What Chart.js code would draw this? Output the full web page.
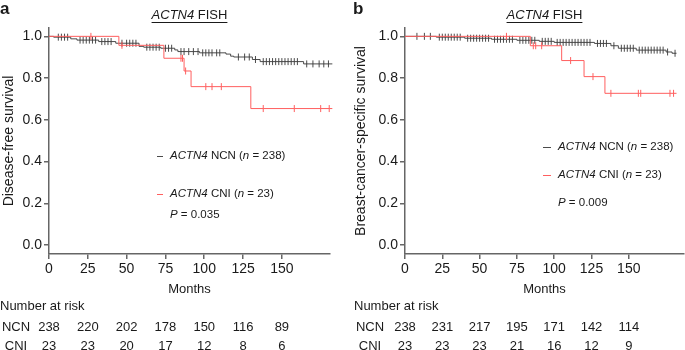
<!DOCTYPE html>
<html><head><meta charset="utf-8">
<script src="https://cdn.jsdelivr.net/npm/chart.js@4"></script>
<style>
html,body{margin:0;padding:0;background:#fff;}
#wrap{position:relative;width:685px;height:350px;overflow:hidden;background:#fff;}
#ca{position:absolute;left:0;top:0;width:343px;height:350px;}
#cb{position:absolute;left:343px;top:0;width:342px;height:350px;}
</style></head><body>
<div id="wrap"><canvas id="ca" width="343" height="350"></canvas><canvas id="cb" width="342" height="350"></canvas></div>
<script>
const xTicks = [0, 25, 50, 75, 100, 125, 150];
const yTicks = [0, 0.2, 0.4, 0.6, 0.8, 1.0];

// [months, survival, censored (1) or event (0)]
const dfsNCN = [
 [0,1,0],[3,0.996,0],[6,0.996,1],[8,0.996,1],[10,0.996,1],[12,0.996,1],
 [14,0.988,0],[18,0.982,0],[20,0.982,1],[22,0.982,1],[24,0.982,1],[26,0.982,1],[28,0.982,1],[30,0.982,1],
 [32,0.975,0],[34,0.975,1],[36,0.975,1],[38,0.975,1],[40,0.975,1],
 [43,0.967,0],[47,0.967,1],[50,0.967,1],[52,0.967,1],[54,0.967,1],[56,0.967,1],
 [58,0.952,0],[61,0.948,0],[63,0.948,1],[65,0.948,1],[67,0.948,1],[69,0.948,1],[71,0.948,1],
 [72,0.943,0],[75,0.943,1],[77,0.943,1],[79,0.943,1],
 [81,0.935,0],[83,0.927,0],[85,0.927,1],[87,0.927,1],[90,0.927,1],[93,0.927,1],[96,0.927,1],
 [97,0.921,0],[99,0.921,1],[101,0.921,1],[103,0.921,1],[105,0.921,1],[108,0.921,1],[110,0.921,1],
 [114,0.915,0],[117,0.905,0],[119,0.901,0],[122,0.901,1],[126,0.901,1],[129,0.901,1],
 [131,0.889,0],[133,0.889,1],[136,0.879,0],
 [138,0.879,1],[140,0.879,1],[142,0.879,1],[144,0.879,1],[146,0.879,1],[148,0.879,1],[150,0.879,1],
 [152,0.879,1],[154,0.879,1],[156,0.879,1],[158,0.879,1],[160,0.879,1],
 [164,0.868,0],[166,0.868,1],[170,0.868,1],[174,0.868,1],[177,0.868,1],[180,0.868,1],[182.5,0.868,0]
];
const dfsCNI = [
 [0,1,0],[27,1,1],[45,0.957,0],[47,0.957,1],[74,0.895,0],[85,0.895,1],[86,0.895,1],
 [87,0.834,0],[88,0.834,1],[91.5,0.759,0],[101,0.759,1],[105,0.759,1],[111,0.759,1],
 [130,0.654,0],[138,0.654,1],[158,0.654,1],[175,0.654,1],[180.5,0.654,1],[182.5,0.654,0]
];
const bcssNCN = [
 [0,1,0],[8,1,1],[13,1,1],[17,1,1],
 [21,0.996,0],[23,0.996,1],[25,0.996,1],[27,0.996,1],[29,0.996,1],[31,0.996,1],[33,0.996,1],[35,0.996,1],[37,0.996,1],
 [40,0.991,0],[42,0.991,1],[44,0.991,1],[46,0.991,1],[48,0.991,1],[50,0.991,1],[52,0.991,1],[54,0.991,1],[56,0.991,1],
 [58,0.986,0],[60,0.986,1],[62,0.986,1],[64,0.986,1],[66,0.986,1],[68,0.986,1],[70,0.986,1],[72,0.986,1],
 [75,0.981,0],[77,0.981,1],[79,0.981,1],[81,0.981,1],[83,0.981,1],[85,0.981,1],[87,0.981,1],
 [90,0.976,0],[92,0.976,1],[94,0.976,1],[96,0.976,1],[98,0.976,1],
 [100,0.971,0],[102,0.971,1],[104,0.971,1],[106,0.971,1],[108,0.971,1],[110,0.971,1],[112,0.971,1],
 [114,0.971,1],[116,0.971,1],[118,0.971,1],[120,0.971,1],[122,0.971,1],[124,0.971,1],
 [127,0.966,0],[129,0.966,1],[131,0.966,1],[133,0.966,1],[135,0.966,1],
 [138,0.955,0],[140,0.955,1],[143,0.943,0],[145,0.943,1],[147,0.943,1],[149,0.943,1],[151,0.943,1],[153,0.943,1],
 [155,0.934,0],[157,0.934,1],[159,0.934,1],[161,0.934,1],[163,0.934,1],[165,0.934,1],[167,0.934,1],[169,0.934,1],[171,0.934,1],[173,0.934,1],
 [175,0.925,0],[176,0.925,1],[179,0.919,0],[181,0.919,1],[182,0.919,0]
];
const bcssCNI = [
 [0,1,0],[68,1,1],[84,0.955,0],[86,0.955,1],[87.6,0.955,1],[91.6,0.955,1],
 [105,0.884,0],[111,0.884,1],[120,0.807,0],[126,0.807,1],
 [134,0.727,0],[138,0.727,1],[156.4,0.727,1],[158,0.727,1],[177.6,0.727,1],[180,0.727,1],[182,0.727,0]
];

const riskA_NCN = [238, 220, 202, 178, 150, 116, 89];
const riskA_CNI = [23, 23, 20, 17, 12, 8, 6];
const riskB_NCN = [238, 231, 217, 195, 171, 142, 114];
const riskB_CNI = [23, 23, 23, 21, 16, 12, 9];

const FF = "'Liberation Sans', Arial, Helvetica, sans-serif";
const GRAY = 'rgba(55,55,55,0.9)';
const RED = 'rgb(255,95,95)';
const TXT = '#1a1a1a';
Chart.defaults.font.family = FF;
Chart.defaults.color = TXT;

function drawRuns(ctx, x, y, parts, size, align) {
  const w = parts.map(p => { ctx.font = (p[1] ? 'italic ' : '') + size + 'px ' + FF; return ctx.measureText(p[0]).width; });
  const total = w.reduce((a, b) => a + b, 0);
  let cx = align === 'center' ? x - total / 2 : x;
  const start = cx;
  parts.forEach((p, i) => { ctx.font = (p[1] ? 'italic ' : '') + size + 'px ' + FF; ctx.fillText(p[0], cx, y); cx += w[i]; });
  return [start, total];
}

function makeDataset(arr, color) {
  return {
    data: arr.map(p => ({x: p[0], y: p[1]})),
    stepped: true,
    borderColor: color,
    borderWidth: 1,
    fill: false,
    clip: false,
    pointStyle: 'line',
    pointRotation: 90,
    pointRadius: arr.map(p => p[2] ? 3.5 : 0),
    pointHoverRadius: arr.map(p => p[2] ? 3.5 : 0),
    pointBorderColor: color,
    pointBackgroundColor: color,
    pointBorderWidth: 1
  };
}

function makePanel(id, cfg) {
  const textPlugin = {
    id: 'texts' + id,
    afterDraw(chart) {
      const ctx = chart.ctx;
      const xs = chart.scales.x;
      const area = chart.chartArea;
      const cxm = (area.left + area.right) / 2;
      ctx.save();
      ctx.fillStyle = TXT;
      ctx.textBaseline = 'alphabetic';
      ctx.textAlign = 'left';
      ctx.font = 'bold 17px ' + FF;
      ctx.fillText(cfg.letter, cfg.letterX, 14);
      // title
      ctx.textBaseline = 'middle';
      const [ts, tw] = drawRuns(ctx, cxm, 15.5, [['ACTN4', true], [' FISH', false]], 13, 'center');
      ctx.strokeStyle = TXT; ctx.lineWidth = 1;
      ctx.beginPath(); ctx.moveTo(ts, 22.5); ctx.lineTo(ts + tw, 22.5); ctx.stroke();
      // legend
      const L = cfg.legend;
      ctx.lineWidth = 1;
      ctx.strokeStyle = GRAY;
      ctx.beginPath(); ctx.moveTo(L.lx0, L.y1 + 0.5); ctx.lineTo(L.lx1, L.y1 + 0.5); ctx.stroke();
      ctx.strokeStyle = RED;
      ctx.beginPath(); ctx.moveTo(L.lx0, L.y2 + 0.5); ctx.lineTo(L.lx1, L.y2 + 0.5); ctx.stroke();
      drawRuns(ctx, L.tx, L.y1, [['ACTN4', true], [' NCN (', false], ['n', true], [' = 238)', false]], 11.5, 'left');
      drawRuns(ctx, L.tx, L.y2, [['ACTN4', true], [' CNI (', false], ['n', true], [' = 23)', false]], 11.5, 'left');
      drawRuns(ctx, L.tx, L.y3, [['P', true], [' = ' + cfg.pval, false]], 11.5, 'left');
      // number at risk
      ctx.font = '13px ' + FF;
      ctx.textAlign = 'left';
      ctx.fillText('Number at risk', cfg.riskX, 306);
      ctx.textAlign = 'center';
      ctx.fillText('NCN', cfg.rowLabelX, 327.5);
      ctx.fillText('CNI', cfg.rowLabelX, 346.5);
      xTicks.forEach((t, i) => {
        const px = xs.getPixelForValue(t);
        ctx.fillText(String(cfg.riskNCN[i]), px, 327.5);
        ctx.fillText(String(cfg.riskCNI[i]), px, 346.5);
      });
      ctx.restore();
    }
  };
  return new Chart(document.getElementById(id), {
    type: 'line',
    data: { datasets: [makeDataset(cfg.cni, RED), makeDataset(cfg.ncn, GRAY)] },
    options: {
      responsive: false,
      devicePixelRatio: 1,
      animation: false,
      events: [],
      layout: { padding: { top: 28, right: cfg.padR, bottom: 0, left: 0 } },
      plugins: { legend: { display: false }, tooltip: { enabled: false }, title: { display: false } },
      scales: {
        x: {
          type: 'linear', min: 0, max: cfg.xMax,
          afterBuildTicks: s => { s.ticks = xTicks.map(v => ({value: v})); },
          afterFit: s => { s.height = 96; },
          ticks: { font: { size: 14 }, color: TXT, padding: 2, maxRotation: 0, autoSkip: false, callback: v => String(v) },
          grid: { display: true, drawOnChartArea: false, drawTicks: true, tickLength: 5, color: '#666', lineWidth: 1.5 },
          border: { display: true, color: '#666', width: 1.5 },
          title: { display: true, text: 'Months', font: { size: 13 }, color: TXT, padding: { top: 0, bottom: 53 } }
        },
        y: {
          type: 'linear', min: -0.043, max: 1.04,
          afterBuildTicks: s => { s.ticks = yTicks.map(v => ({value: v})); },
          afterFit: s => { s.width = cfg.yW; },
          ticks: { font: { size: 14 }, color: TXT, padding: 2, callback: v => Number(v).toFixed(1) },
          grid: { display: true, drawOnChartArea: false, drawTicks: true, tickLength: 5, color: '#666', lineWidth: 1.5 },
          border: { display: true, color: '#666', width: 1.5 },
          title: { display: true, text: cfg.yTitle, font: { size: 14 }, color: TXT, padding: { top: cfg.yTitlePad, bottom: 0 } }
        }
      }
    },
    plugins: [textPlugin]
  });
}

makePanel('ca', {
  letter: 'a', letterX: 0, ncn: dfsNCN, cni: dfsCNI, xMax: 181, padR: 13, yW: 49,
  yTitle: 'Disease-free survival', yTitlePad: 1, pval: '0.035',
  legend: { lx0: 157, lx1: 163, tx: 170, y1: 156, y2: 194, y3: 215 },
  riskX: 0, rowLabelX: 16, riskNCN: riskA_NCN, riskCNI: riskA_CNI
});
makePanel('cb', {
  letter: 'b', letterX: 10, ncn: bcssNCN, cni: bcssCNI, xMax: 187, padR: 1, yW: 62,
  yTitle: 'Breast-cancer-specific survival', yTitlePad: 10, pval: '0.009',
  legend: { lx0: 200, lx1: 208, tx: 215, y1: 147, y2: 175, y3: 203 },
  riskX: 11, rowLabelX: 27, riskNCN: riskB_NCN, riskCNI: riskB_CNI
});
</script>
</body></html>
